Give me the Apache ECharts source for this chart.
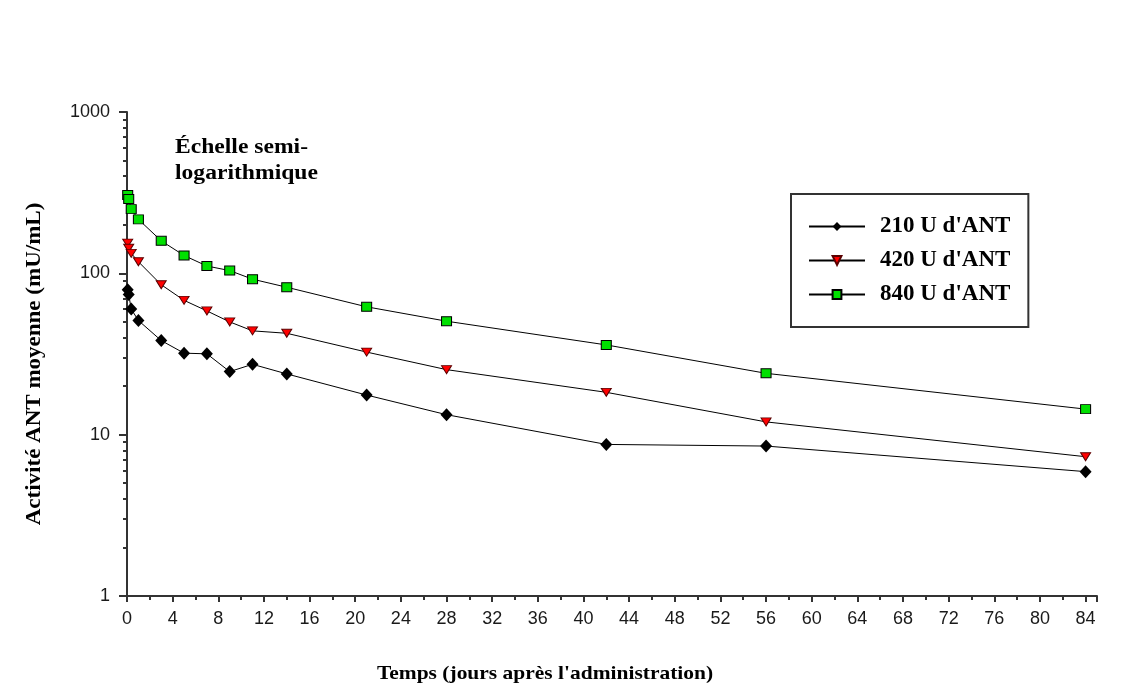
<!DOCTYPE html>
<html>
<head>
<meta charset="utf-8">
<script src="https://cdn.jsdelivr.net/npm/echarts@6/dist/echarts.min.js"></script>
<style>
  html, body { margin: 0; padding: 0; background: #fff; }
  #chart { width: 1147px; height: 689px; }
</style>
</head>
<body>
<div id="chart"></div>
<script>
// jours après l'administration
const days = [0.06, 0.15, 0.37, 1, 3, 5, 7, 9, 11, 14, 21, 28, 42, 56, 84]
// activité ANT moyenne (mU/mL)
const dose210 = [79, 74, 60, 51, 38.3, 32, 31.7, 24.6, 27.3, 23.8, 17.6, 13.3, 8.7, 8.5, 5.9]
const dose420 = [154, 143, 133, 118, 85, 68, 58.5, 50, 44, 42.5, 32.5, 25.3, 18.3, 12, 7.3]
const dose840 = [306, 289, 250, 216, 159, 129, 111, 104, 92, 82, 62, 50.5, 36, 24, 14.4]
const seriesNames = ["210 U d'ANT", "420 U d'ANT", "840 U d'ANT"]
// petites graduations de l'échelle log
const minorLogTicks = [2, 3, 4, 5, 6, 7, 8, 9, 20, 30, 40, 50, 60, 70, 80, 90, 200, 300, 400, 500, 600, 700, 800, 900]

const pairs = (vals) => days.map((d, i) => [d, vals[i]])

const myChart = echarts.init(document.getElementById('chart'))

const labelStyle = {
  fontFamily: 'Liberation Sans',
  fontSize: 18,
  color: '#1a1a1a'
}
const serif = '"Liberation Serif"'

const option = {
  animation: false,
  backgroundColor: '#fff',
  grid: {
    left: 127,
    right: 50,
    top: 112,
    bottom: 93,
    containLabel: false
  },
  legend: {
    orient: 'vertical',
    left: 791,
    top: 194,
    padding: [21, 18, 21, 17],
    itemWidth: 56,
    itemHeight: 11,
    itemGap: 11,
    borderColor: '#333',
    borderWidth: 2,
    backgroundColor: '#fff',
    data: seriesNames,
    textStyle: {
      fontFamily: serif,
      fontWeight: 'bold',
      fontSize: 23,
      lineHeight: 22,
      color: '#000',
      padding: [0, 0, 0, 10]
    }
  },
  xAxis: {
    type: 'value',
    min: 0,
    max: 85,
    interval: 4,
    axisLine: { lineStyle: { color: '#333', width: 2 } },
    axisTick: { length: 6, lineStyle: { color: '#333', width: 2 } },
    minorTick: { show: true, splitNumber: 2, length: 4, lineStyle: { color: '#333', width: 2 } },
    axisLabel: { ...labelStyle, margin: 14, showMaxLabel: false },
    splitLine: { show: false }
  },
  yAxis: [
    {
      type: 'log',
      logBase: 10,
      min: 1,
      max: 1000,
      axisLine: { show: true, lineStyle: { color: '#333', width: 2 } },
      axisTick: { show: true, length: 8, lineStyle: { color: '#333', width: 2 } },
      axisLabel: { ...labelStyle, margin: 17, formatter: (v) => String(v) },
      splitLine: { show: false }
    },
    {
      // graduations mineures placées en log10
      type: 'value',
      position: 'left',
      min: 0,
      max: 3,
      axisLine: { show: false },
      axisTick: {
        show: true,
        length: 4,
        customValues: minorLogTicks.map(v => Math.log10(v)),
        lineStyle: { color: '#333', width: 2 }
      },
      axisLabel: { show: false },
      splitLine: { show: false }
    }
  ],
  graphic: [
    {
      type: 'text',
      x: 175,
      y: 135,
      scaleX: 1.18,
      style: {
        text: 'Échelle semi-\nlogarithmique',
        font: 'bold 20px ' + serif,
        lineHeight: 26,
        fill: '#000'
      }
    },
    {
      type: 'text',
      x: 35,
      y: 364,
      rotation: Math.PI / 2,
      scaleX: 1.15,
      style: {
        text: 'Activité ANT moyenne (mU/mL)',
        font: 'bold 20px ' + serif,
        align: 'center',
        verticalAlign: 'middle',
        fill: '#000'
      }
    },
    {
      type: 'text',
      x: 545,
      y: 674,
      scaleX: 1.13,
      style: {
        text: "Temps (jours après l'administration)",
        font: 'bold 19px ' + serif,
        align: 'center',
        verticalAlign: 'middle',
        fill: '#000'
      }
    }
  ],
  series: [
    {
      name: seriesNames[0],
      type: 'line',
      data: pairs(dose210),
      symbol: 'diamond',
      symbolSize: [12, 13],
      lineStyle: { color: '#000', width: 1 },
      itemStyle: { color: '#000', borderColor: '#000', borderWidth: 0 }
    },
    {
      name: seriesNames[1],
      type: 'line',
      data: pairs(dose420),
      symbol: 'triangle',
      symbolRotate: 180,
      symbolSize: [10, 8],
      lineStyle: { color: '#000', width: 1 },
      itemStyle: { color: '#ff0000', borderColor: '#5a0000', borderWidth: 1 }
    },
    {
      name: seriesNames[2],
      type: 'line',
      data: pairs(dose840),
      symbol: 'rect',
      symbolSize: [10, 9],
      lineStyle: { color: '#000', width: 1 },
      itemStyle: { color: '#00e000', borderColor: '#000', borderWidth: 1 }
    }
  ]
}

myChart.setOption(option)
</script>
</body>
</html>
